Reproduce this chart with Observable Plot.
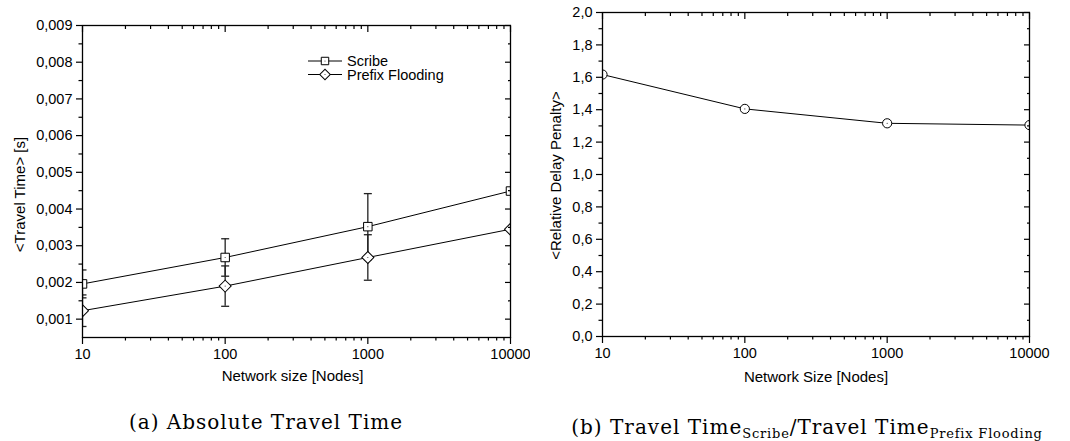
<!DOCTYPE html>
<html><head><meta charset="utf-8">
<script src="https://cdn.jsdelivr.net/npm/d3@7"></script>
<script src="https://cdn.jsdelivr.net/npm/@observablehq/plot@0.6"></script>
<style>
body{margin:0;background:#fff;width:1070px;height:441px;overflow:hidden;position:relative;font-family:"Liberation Sans",Arial,sans-serif}
#a{position:absolute;left:0;top:0}
#b{position:absolute;left:530px;top:0}
#legend{position:absolute;left:0;top:0}
.cap{position:absolute;font-family:"DejaVu Serif",serif;font-size:20px;letter-spacing:1px;white-space:nowrap;transform:translateX(-50%);color:#000;line-height:1}
.cap sub{font-size:13px;letter-spacing:0.8px;vertical-align:-4px;line-height:0}
</style></head><body>
<div id="a"></div><div id="b"></div>
<svg id="legend" width="530" height="100"></svg>
<div class="cap" style="left:266px;top:412px">(a) Absolute Travel Time</div>
<div class="cap" style="left:807px;top:417px">(b) Travel Time<sub>Scribe</sub>/Travel Time<sub>Prefix Flooding</sub></div>
<script>
// ---- data ----
const sizes = [10, 100, 1000, 10000];
const scribe = [0.00196, 0.00268, 0.00352, 0.00449];
const scribeErr = [0.00038, 0.00051, 0.0009, 0];
const prefix = [0.00123, 0.0019, 0.00268, 0.00345];
const prefixErr = [0.00043, 0.00055, 0.00062, 0];
const penalty = [1.617, 1.405, 1.316, 1.305];

const xMajor = [10, 100, 1000, 10000];
const xLabels = ["10", "100", "1000", "10000"];
const xMinor = [20,30,40,50,60,70,80,90,200,300,400,500,600,700,800,900,2000,3000,4000,5000,6000,7000,8000,9000];
const yMajorA = [0.001,0.002,0.003,0.004,0.005,0.006,0.007,0.008,0.009];
const yLabelsA = ["0,001","0,002","0,003","0,004","0,005","0,006","0,007","0,008","0,009"];
const yMinorA = [0.0015,0.0025,0.0035,0.0045,0.0055,0.0065,0.0075,0.0085];
const yMajorB = [0,0.2,0.4,0.6,0.8,1.0,1.2,1.4,1.6,1.8,2.0];
const yLabelsB = ["0,0","0,2","0,4","0,6","0,8","1,0","1,2","1,4","1,6","1,8","2,0"];
const yMinorB = [0.1,0.3,0.5,0.7,0.9,1.1,1.3,1.5,1.7,1.9];

const rowsA = [
  ...sizes.map((s, i) => ({size: s, value: scribe[i], err: scribeErr[i], series: "Scribe"})),
  ...sizes.map((s, i) => ({size: s, value: prefix[i], err: prefixErr[i], series: "Prefix Flooding"}))
];
const rowsB = sizes.map((s, i) => ({size: s, value: penalty[i]}));

const capSymbol = {draw(ctx) { ctx.moveTo(-4, 0); ctx.lineTo(4, 0); }};
const FONT = "Liberation Sans, Arial, sans-serif";

function frameAxes(yMajor, yLabels, yMinor) {
  const xl = d => xLabels[xMajor.indexOf(d)];
  const yl = d => yLabels[yMajor.indexOf(d)];
  const none = () => "";
  const common = {label: null, strokeWidth: 1.2};
  return [
    Plot.axisX(xMajor, {...common, anchor: "bottom", tickSize: 7, tickPadding: 4, tickFormat: xl, fontSize: 14.5}),
    Plot.axisX(xMinor, {...common, anchor: "bottom", tickSize: 3.5, tickFormat: none}),
    Plot.axisX(xMajor, {...common, anchor: "top", tickSize: -6, tickFormat: none}),
    Plot.axisX(xMinor, {...common, anchor: "top", tickSize: -3, tickFormat: none}),
    Plot.axisY(yMajor, {...common, anchor: "left", tickSize: 6, tickPadding: 4, tickFormat: yl, fontSize: 14.5}),
    Plot.axisY(yMinor, {...common, anchor: "left", tickSize: 3.5, tickFormat: none}),
    Plot.axisY(yMajor, {...common, anchor: "right", tickSize: -6, tickFormat: none}),
    Plot.axisY(yMinor, {...common, anchor: "right", tickSize: -3, tickFormat: none}),
    Plot.frame({stroke: "black", strokeWidth: 1.3})
  ];
}

const plotA = Plot.plot({
  width: 530, height: 392,
  marginLeft: 82, marginRight: 20, marginTop: 25, marginBottom: 55,
  style: {fontFamily: FONT, fontSize: "14px", color: "black", background: "white"},
  x: {type: "log", domain: [10, 10000], axis: null},
  y: {domain: [0.0005, 0.009], axis: null},
  marks: [
    Plot.line(rowsA, {x: "size", y: "value", z: "series", stroke: "black", strokeWidth: 1, clip: true}),
    Plot.ruleX(rowsA.filter(d => d.err > 0), {x: "size", y1: d => d.value - d.err, y2: d => d.value + d.err, stroke: "#222", strokeWidth: 1.3, clip: true}),
    Plot.dot(rowsA.filter(d => d.err > 0), {x: "size", y: d => d.value + d.err, symbol: capSymbol, stroke: "#222", strokeWidth: 1.3, clip: true}),
    Plot.dot(rowsA.filter(d => d.err > 0), {x: "size", y: d => d.value - d.err, symbol: capSymbol, stroke: "#222", strokeWidth: 1.3, clip: true}),
    Plot.dot(rowsA.filter(d => d.series === "Scribe"), {x: "size", y: "value", symbol: "square", r: 4.8, fill: "white", stroke: "black", strokeWidth: 1, clip: true}),
    Plot.dot(rowsA.filter(d => d.series !== "Scribe"), {x: "size", y: "value", symbol: "square", rotate: 45, r: 4.8, fill: "white", stroke: "black", strokeWidth: 1, clip: true}),
    Plot.dot(rowsA, {x: "size", y: "value", r: 0.6, fill: "#444", clip: true}),
    ...frameAxes(yMajorA, yLabelsA, yMinorA),
    Plot.text(["Network size [Nodes]"], {frameAnchor: "bottom", dy: 43, dx: -4, fontSize: 15, fill: "black"}),
    Plot.text(["<Travel Time> [s]"], {frameAnchor: "left", textAnchor: "middle", rotate: -90, dx: -62, dy: 13, fontSize: 15, fill: "black"})
  ]
});
document.getElementById("a").append(plotA);

const plotB = Plot.plot({
  width: 540, height: 392,
  marginLeft: 72, marginRight: 41, marginTop: 12, marginBottom: 56,
  style: {fontFamily: FONT, fontSize: "14px", color: "black", background: "white"},
  x: {type: "log", domain: [10, 10000], axis: null},
  y: {domain: [0, 2], axis: null},
  marks: [
    Plot.line(rowsB, {x: "size", y: "value", stroke: "black", strokeWidth: 1, clip: true}),
    Plot.dot(rowsB, {x: "size", y: "value", r: 4.6, fill: "white", stroke: "black", strokeWidth: 1, clip: true}),
    Plot.dot(rowsB, {x: "size", y: "value", r: 0.6, fill: "#444", clip: true}),
    ...frameAxes(yMajorB, yLabelsB, yMinorB),
    Plot.text(["Network Size [Nodes]"], {frameAnchor: "bottom", dy: 45, fontSize: 15, fill: "black"}),
    Plot.text(["<Relative Delay Penalty>"], {frameAnchor: "left", textAnchor: "middle", rotate: -90, dx: -46, dy: 1, fontSize: 15, fill: "black"})
  ]
});
document.getElementById("b").append(plotB);

// ---- legend (inside left panel) ----
const lg = d3.select("#legend");
const legendItems = [{name: "Scribe", rot: 0, y: 61}, {name: "Prefix Flooding", rot: 45, y: 74.5}];
const g = lg.selectAll("g").data(legendItems).join("g").attr("transform", d => `translate(0,${d.y})`);
g.append("line").attr("x1", 308).attr("x2", 342).attr("y1", 0).attr("y2", 0).attr("stroke", "black").attr("stroke-width", 1);
g.append("path").attr("d", d3.symbol(d3.symbolSquare, 4.2 * 4.2 * Math.PI)())
  .attr("transform", d => `translate(325,0) rotate(${d.rot})`).attr("fill", "white").attr("stroke", "black");
g.append("circle").attr("cx", 325).attr("cy", 0).attr("r", 0.6).attr("fill", "#444");
g.append("text").attr("x", 347).attr("y", 0).attr("dy", "0.35em").attr("font-family", FONT).attr("font-size", 14.5).text(d => d.name);
</script>
</body></html>
